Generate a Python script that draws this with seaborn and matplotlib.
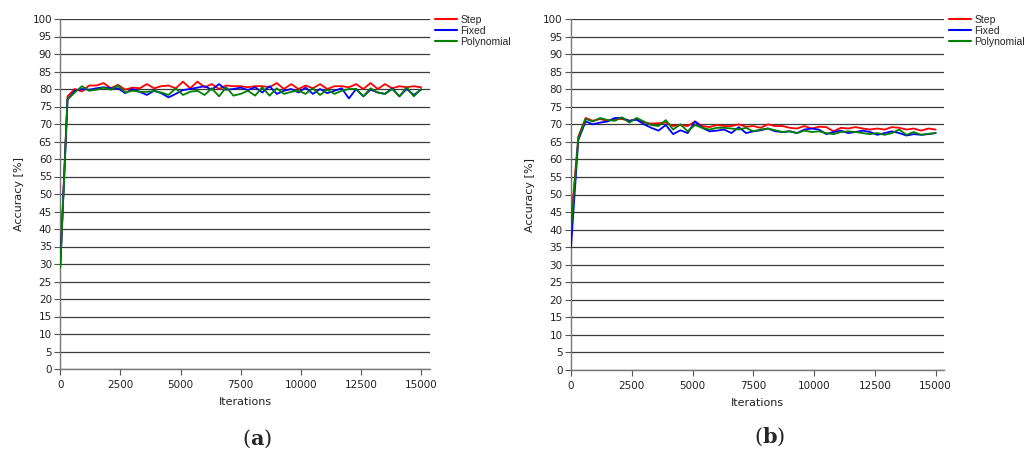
import numpy as np
import pandas as pd
import matplotlib
matplotlib.use("Agg")
import matplotlib.pyplot as plt
import seaborn as sns

iterations = list(range(0, 15001, 300))
series_names = ["Step", "Fixed", "Polynomial"]
colors = {"Step": "#ff0000", "Fixed": "#0000ff", "Polynomial": "#008000"}

a_step = [30, 77.9, 80, 79.3, 81, 81, 81.7, 80.2, 81.2, 79.8, 80.4, 80.2, 81.4, 80.2, 80.8, 81,
          80.2, 82.1, 80.2, 82.1, 80.5, 81.4, 80, 81, 80.8, 80.8, 80.5, 80.8, 80.8, 80.5, 81.7,
          80, 81.4, 80, 81, 80.2, 81.4, 80, 80.8, 80.8, 80.5, 81.4, 80, 81.7, 80, 81.4, 80.2,
          80.8, 80.5, 80.8, 80.5]
a_fixed = [29.5, 77, 79.5, 80, 79.8, 80.2, 80.5, 80.2, 80.2, 78.8, 80, 79.2, 78.3, 79.5, 78.8,
           77.6, 78.6, 79.7, 80, 80.4, 80.8, 79.8, 81.4, 79.8, 80, 80.4, 79.7, 80.5, 79, 80.8,
           78.6, 79.5, 80, 79, 80.4, 78.6, 80, 78.8, 79.5, 80.2, 77.3, 80, 77.9, 79.8, 79, 78.6,
           80.2, 77.9, 80, 78.3, 79.8]
a_poly = [29, 77, 79, 80.8, 79.5, 79.8, 80.4, 79.8, 81, 79, 79.5, 79.2, 79.2, 79.4, 79, 78.3,
          80.2, 78.3, 79.2, 79.5, 78.3, 80.2, 77.9, 80.5, 78.1, 78.6, 79.5, 78.1, 80.5, 78.1,
          80.2, 78.6, 79.2, 79.5, 78.6, 80.2, 78.3, 79.8, 78.6, 79.5, 80, 80, 77.9, 80.2, 79,
          78.6, 80, 77.9, 80.5, 77.9, 80]

b_step = [42, 66.5, 71.8, 71, 71.5, 71, 71.5, 71.5, 71, 71.5, 70.5, 70.2, 70.3, 70.5, 69.5,
          69.8, 69.5, 70.8, 69.5, 69.2, 69.8, 69.5, 69.5, 70, 69.3, 69.5, 69, 70, 69.5, 69.5,
          69, 68.8, 69.5, 68.8, 69.3, 69.2, 68, 69, 68.8, 69.2, 68.8, 68.5, 68.8, 68.5, 69.2,
          69, 68.5, 68.8, 68.2, 68.8, 68.5]
b_fixed = [35, 65.5, 70.8, 70, 70.5, 70.8, 71.8, 71.8, 71, 71.3, 70, 69, 68.2, 69.8, 67.2,
           68.3, 67.5, 70.8, 69, 68, 68.2, 68.5, 67.5, 69.2, 67.5, 68, 68.3, 68.8, 68, 67.8,
           68, 67.5, 68.5, 68.8, 68.5, 67.2, 67.8, 68.2, 67.5, 67.8, 68.2, 67.8, 67, 67.5, 68,
           67.5, 66.8, 67.2, 67, 67.2, 67.5]
b_poly = [40, 66, 71.5, 70.8, 71.8, 71.2, 71, 72, 70.5, 71.8, 70.8, 69.8, 69.5, 71.2, 68.5,
          70, 68, 69.8, 69, 68.5, 69, 69, 68.8, 68.5, 69, 68, 68.5, 68.8, 68.3, 67.8, 68, 67.5,
          68.2, 67.8, 68, 67.5, 67.2, 67.8, 68, 67.8, 67.5, 67.2, 67.5, 67, 67.5, 68.5, 67,
          67.8, 67, 67.3, 67.5]

x_ticks = [0, 2500, 5000, 7500, 10000, 12500, 15000]
y_ticks = list(range(0, 101, 5))
panel_labels = [r"($\mathbf{a}$)", r"($\mathbf{b}$)"]


def make_df(step, fixed, poly):
    rows = []
    for name, vals in zip(series_names, [step, fixed, poly]):
        for it, v in zip(iterations, vals):
            rows.append({"Iterations": it, "Accuracy": v, "Series": name})
    return pd.DataFrame(rows)


sns.set_style("white")
plt.rcParams["font.family"] = ["DejaVu Sans"]
plt.rcParams["mathtext.fontset"] = "dejavuserif"

fig = plt.figure(figsize=(10.26, 4.54), dpi=100)
W, H = 1026, 454
rects = [
    (60.3 / W, 1 - 369 / H, (430 - 60.3) / W, (369 - 19) / H),
    (571 / W, 1 - 370 / H, (944 - 571) / W, (370 - 19) / H),
]
xmaxes = [15372, 15343]
dfs = [make_df(a_step, a_fixed, a_poly), make_df(b_step, b_fixed, b_poly)]
label_pos = [(257 / W, 1 - 439 / H), (770 / W, 1 - 437 / H)]

for i, (rect, df) in enumerate(zip(rects, dfs)):
    ax = fig.add_axes(rect)
    for yv in y_ticks:
        ax.axhline(yv, color="#3a3a3a", lw=0.9, zorder=0)
    sns.lineplot(data=df, x="Iterations", y="Accuracy", hue="Series",
                 hue_order=series_names, palette=colors, lw=1.3, ax=ax,
                 legend=True, zorder=3)
    ax.set_xlim(0, xmaxes[i])
    ax.set_ylim(0, 100)
    ax.set_xticks(x_ticks)
    ax.set_yticks(y_ticks)
    ax.tick_params(axis="both", direction="out", length=4, width=0.8,
                   color="#555555", labelsize=7.5, labelcolor="#222222", pad=2,
                   left=True, bottom=True)
    ax.tick_params(axis="x", pad=4)
    for s in ["top", "right"]:
        ax.spines[s].set_visible(False)
    for s in ["left", "bottom"]:
        ax.spines[s].set_color("#777777")
        ax.spines[s].set_linewidth(1.0)
    ax.set_xlabel("Iterations", fontsize=8, color="#222222", labelpad=5)
    ax.set_ylabel("Accuracy [%]", fontsize=8, color="#222222", labelpad=6)
    leg = ax.legend(loc="upper left", bbox_to_anchor=(1.0, 1.025), frameon=False,
                    prop={"family": "Liberation Sans", "size": 7.5},
                    handlelength=2.1, handletextpad=0.35,
                    labelspacing=0.1, borderaxespad=0.05)
    for line in leg.get_lines():
        line.set_linewidth(1.5)
    fig.text(label_pos[i][0], label_pos[i][1], panel_labels[i], ha="center",
             va="center", fontsize=15, family="DejaVu Serif")

fig.savefig("out.png", dpi=100, facecolor="white")
